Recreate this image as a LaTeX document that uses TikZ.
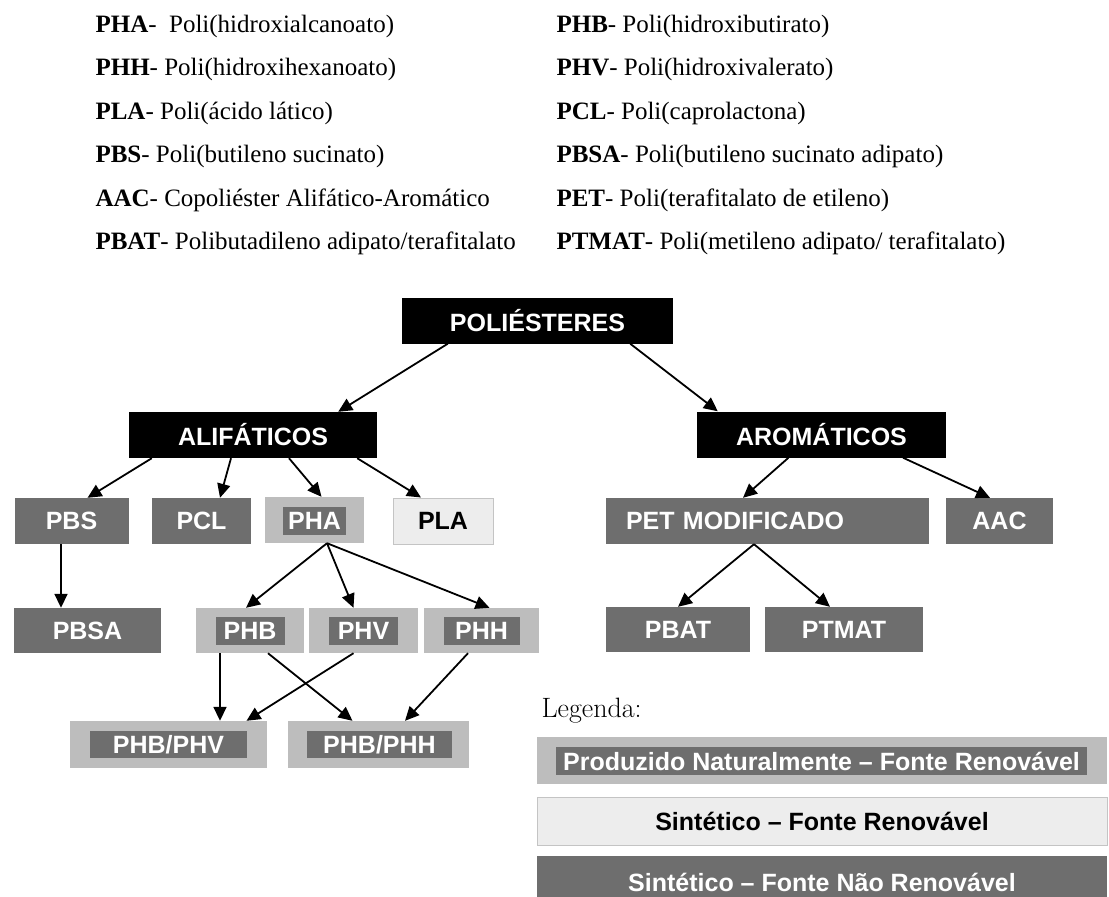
\documentclass[tikz,border=0pt]{standalone}
\usepackage{fontspec}
\usetikzlibrary{arrows.meta}
\newfontfamily\arialfont{Liberation Sans}
\newfontfamily\timesfont{Liberation Serif}
\definecolor{pdark}{HTML}{6E6E6E}
\definecolor{plight}{HTML}{BDBDBD}
\definecolor{ppale}{HTML}{EDEDED}
\definecolor{pedge}{HTML}{C4C4C4}

\begin{document}
\begin{tikzpicture}[x=1pt, y=-1pt,
  boxfont/.style={font=\arialfont\bfseries\fontsize{25}{30}\selectfont},
  headbox/.style={rectangle, boxfont, fill=black, text=white, minimum height=46pt, inner sep=0pt},
  synbox/.style={rectangle, boxfont, fill=pdark, text=white, minimum height=46pt, inner sep=0pt},
  natbox/.style={rectangle, fill=plight, minimum height=46pt, inner sep=0pt},
  natlabel/.style={rectangle, boxfont, fill=pdark, text=white, minimum height=28pt, inner sep=0pt},
  renbox/.style={rectangle, boxfont, fill=ppale, draw=pedge, line width=1pt, text=black, minimum height=46pt, inner sep=0pt},
  keytext/.style={anchor=base west, font=\timesfont\fontsize{25}{30}\selectfont},
  arr/.style={-{Triangle[length=14pt,width=13pt]}, line width=1.8pt},
]
\useasboundingbox (0,0) rectangle (1109,897);

% abbreviations
\node[keytext] (kpha) at (92, 32) {\textbf{PHA}-\ \ Poli(hidroxialcanoato)};
\node[keytext] (kphh) at (92, 75.5) {\textbf{PHH}- Poli(hidroxihexanoato)};
\node[keytext] (kpla) at (92, 119) {\textbf{PLA}- Poli(ácido lático)};
\node[keytext] (kpbs) at (92, 162.5) {\textbf{PBS}- Poli(butileno sucinato)};
\node[keytext] (kaac) at (92, 206) {\textbf{AAC}- Copoliéster Alifático-Aromático};
\node[keytext] (kpbat) at (92, 249.5) {\textbf{PBAT}- Polibutadileno adipato/terafitalato};
\node[keytext] (kphb) at (553, 32) {\textbf{PHB}- Poli(hidroxibutirato)};
\node[keytext] (kphv) at (553, 75.5) {\textbf{PHV}- Poli(hidroxivalerato)};
\node[keytext] (kpcl) at (553, 119) {\textbf{PCL}- Poli(caprolactona)};
\node[keytext] (kpbsa) at (553, 162.5) {\textbf{PBSA}- Poli(butileno sucinato adipato)};
\node[keytext] (kpet) at (553, 206) {\textbf{PET}- Poli(terafitalato de etileno)};
\node[keytext] (kptmat) at (553, 249.5) {\textbf{PTMAT}- Poli(metileno adipato/ terafitalato)};

% tree
\node[headbox, minimum width=271pt] (poli) at (537.5, 320.5) {POLIÉSTERES};
\node[headbox, minimum width=248pt] (ali) at (253, 435) {ALIFÁTICOS};
\node[headbox, minimum width=249pt] (aro) at (821.5, 434.5) {AROMÁTICOS};

\node[synbox, minimum width=114pt] (pbs) at (71.5, 521) {PBS};
\node[synbox, minimum width=99pt] (pcl) at (201.5, 521) {PCL};
\node[natbox, minimum width=99pt] (pha) at (314.5, 520) {};
\node[natlabel, minimum width=63pt] (phal) at (314.5, 521) {PHA};
\node[renbox, minimum width=100pt] (pla) at (443, 521) {PLA};

\node[synbox, minimum width=147pt, minimum height=45pt] (pbsa) at (87.5, 630.5) {PBSA};
\node[natbox, minimum width=108pt, minimum height=45pt] (phb) at (250, 630.5) {};
\node[natlabel, minimum width=69pt] (phbl) at (phb) {PHB};
\node[natbox, minimum width=109pt, minimum height=45pt] (phv) at (363.5, 630.5) {};
\node[natlabel, minimum width=69pt] (phvl) at (phv) {PHV};
\node[natbox, minimum width=115pt, minimum height=45pt] (phh) at (481.5, 630.5) {};
\node[natlabel, minimum width=76pt] (phhl) at (phh) {PHH};

\node[natbox, minimum width=197pt, minimum height=47pt] (phbv) at (168.5, 744.5) {};
\node[natlabel, minimum width=157pt, minimum height=27pt] (phbvl) at (phbv) {PHB/PHV};
\node[natbox, minimum width=181pt, minimum height=47pt] (phbh) at (378.5, 744.5) {};
\node[natlabel, minimum width=145pt, minimum height=27pt] (phbhl) at (379.5, 744.5) {PHB/PHH};

\node[synbox, minimum width=323pt, text width=283pt, align=left, inner xsep=20pt] (pet) at (767.5, 521) {PET MODIFICADO};
\node[synbox, minimum width=107pt] (aac) at (999.5, 521) {AAC};
\node[synbox, minimum width=144pt, minimum height=45pt] (pbat) at (678, 629.5) {PBAT};
\node[synbox, minimum width=158pt, minimum height=45pt] (ptmat) at (844, 629.5) {PTMAT};

\draw[arr] ([xshift=46pt]poli.south west) -- ([xshift=-39pt]ali.north east);
\draw[arr] ([xshift=-43pt]poli.south east) -- ([xshift=21pt]aro.north west);
\draw[arr] ([xshift=23pt]ali.south west) -- ([xshift=16pt]pbs.north);
\draw[arr] ([xshift=-22pt]ali.south) -- ([xshift=18.5pt]pcl.north);
\draw[arr] ([xshift=36pt]ali.south) -- ([xshift=7pt]pha.north);
\draw[arr] ([xshift=-20pt]ali.south east) -- ([xshift=-22pt]pla.north);
\draw[arr] ([xshift=-10.5pt]pbs.south) -- ([xshift=-26.5pt]pbsa.north);
\draw[arr] ([xshift=12.5pt]pha.south) -- ([xshift=-4pt]phb.north);
\draw[arr] ([xshift=12.5pt]pha.south) -- ([xshift=-10pt]phv.north);
\draw[arr] ([xshift=12.5pt]pha.south) -- ([xshift=8pt]phh.north);
\draw[arr] ([xshift=-30pt]phb.south) -- ([xshift=51.5pt]phbv.north);
\draw[arr] ([xshift=18pt]phb.south) -- ([xshift=-26pt]phbh.north);
\draw[arr] ([xshift=-10pt]phv.south) -- ([xshift=78pt]phbv.north);
\draw[arr] ([xshift=-13.5pt]phh.south) -- ([xshift=26.5pt]phbh.north);
\draw[arr] ([xshift=-33pt]aro.south) -- ([xshift=-24.5pt]pet.north);
\draw[arr] ([xshift=81.5pt]aro.south) -- ([xshift=-9.5pt]aac.north);
\draw[arr] ([xshift=-13.5pt]pet.south) -- (pbat.north);
\draw[arr] ([xshift=-13.5pt]pet.south) -- ([xshift=-14pt]ptmat.north);

% legend
\node[anchor=base west, font=\fontsize{28}{32}\selectfont] (leg) at (538, 717) {Legenda:};
\node[natbox, minimum width=570pt, minimum height=47pt] (legnat) at (822, 760.5) {};
\node[natlabel, minimum width=531pt] (legnatl) at (821.5, 761) {Produzido Naturalmente – Fonte Renovável};
\node[renbox, minimum width=570pt, minimum height=48pt] (legren) at (822, 821) {Sintético – Fonte Renovável};
\node[synbox, minimum width=570pt, minimum height=52pt] (legsyn) at (822, 882) {Sintético – Fonte Não Renovável};
\end{tikzpicture}
\end{document}
